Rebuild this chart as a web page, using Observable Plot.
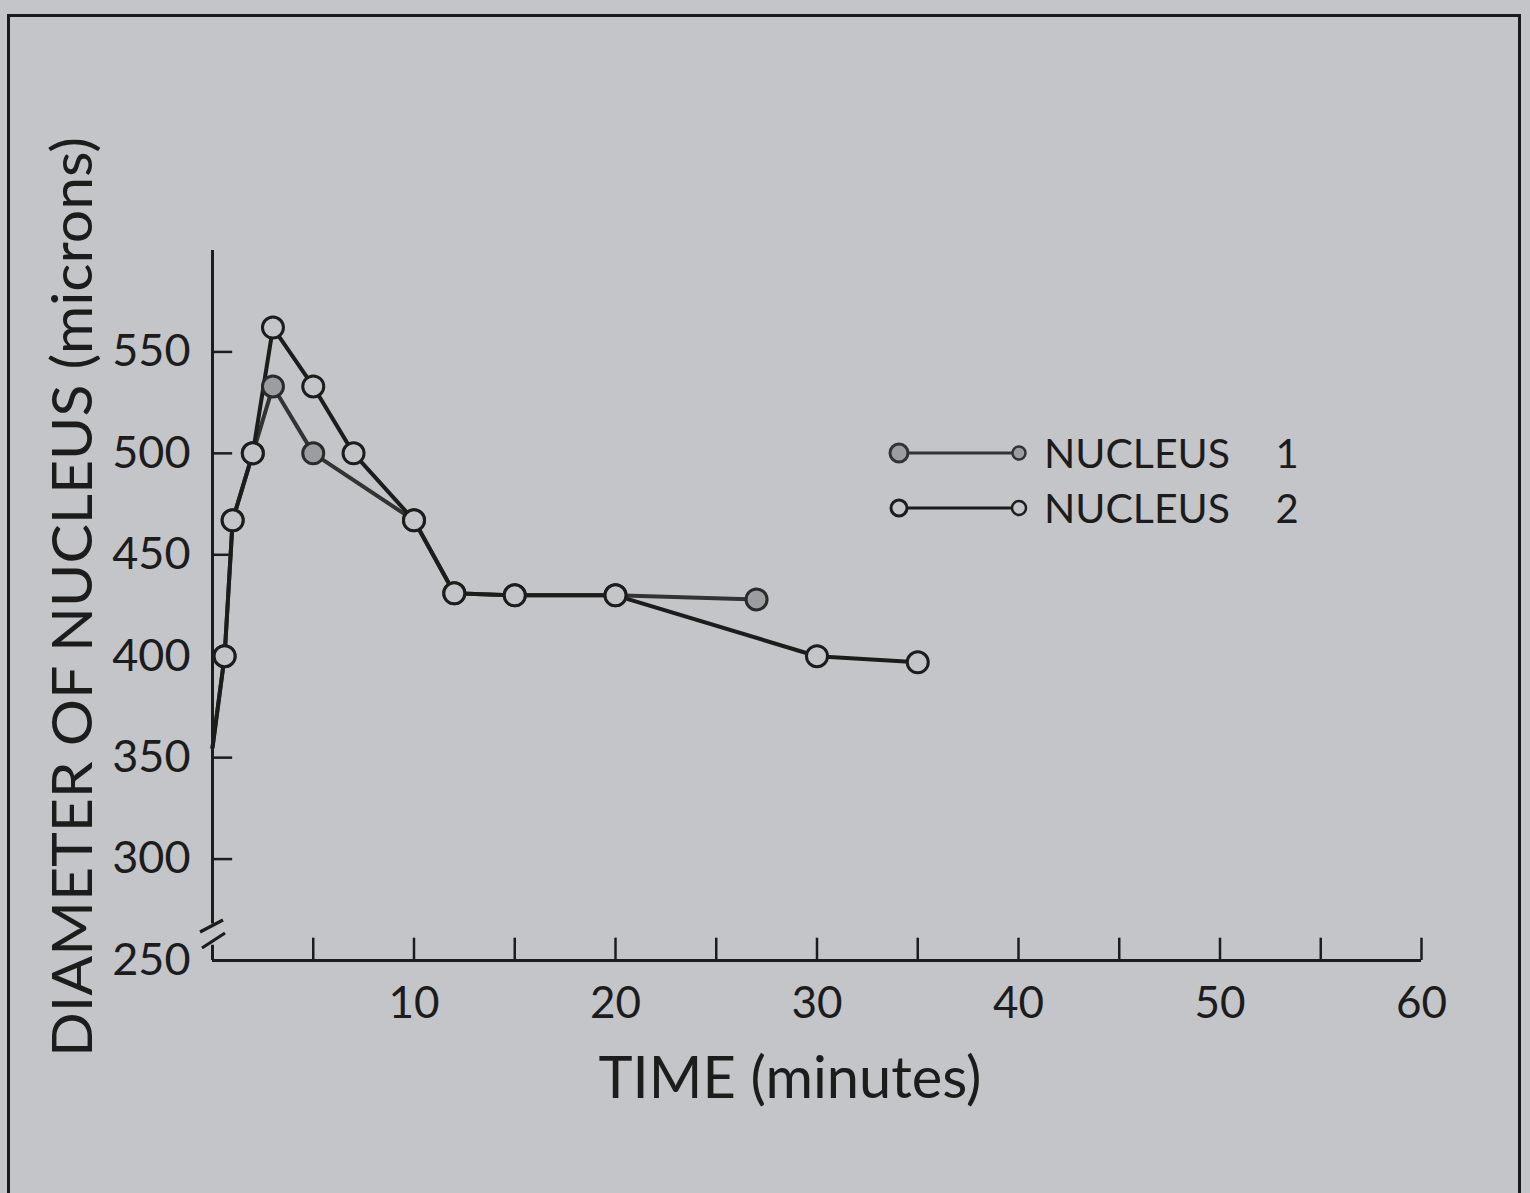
<!DOCTYPE html>
<html><head><meta charset="utf-8">
<script src="https://cdn.jsdelivr.net/npm/d3@7"></script>
<script src="https://cdn.jsdelivr.net/npm/@observablehq/plot@0.6"></script>
<style>
html,body{margin:0;padding:0;background:#c4c5c9;}
#wrap{position:relative;width:1530px;height:1193px;overflow:hidden;background:#c4c5c9;color:#1c1c1c;font-family:Lato,"Open Sans",sans-serif;}
#frame{position:absolute;left:7px;top:14px;width:1514px;height:1240px;border:3px solid #1a1a1a;box-sizing:border-box;}
#wrap svg{position:absolute;left:0;top:0;}
</style></head><body>
<div id="wrap"><div id="frame"></div></div>
<script>
// ---- data ----
const n1Time = [0, 0.6, 1, 2, 3, 5, 10, 12, 15, 20, 27];
const n1Diam = [355, 400, 467, 500, 533, 500, 467, 431, 430, 430, 428];
const n2Time = [0, 0.6, 1, 2, 3, 5, 7, 10, 12, 15, 20, 30, 35];
const n2Diam = [355, 400, 467, 500, 562, 533, 500, 467, 431, 430, 430, 400, 397];
const xTickValues = [5, 10, 15, 20, 25, 30, 35, 40, 45, 50, 55, 60];
const xTickLabels = [10, 20, 30, 40, 50, 60];
const yTickValues = [300, 350, 400, 450, 500, 550];
const yTickLabels = [250, 300, 350, 400, 450, 500, 550];
const seriesNames = ["NUCLEUS", "NUCLEUS"];
const seriesNumbers = ["1", "2"];
const xTitle = "TIME (minutes)";
const yTitle = "DIAMETER OF NUCLEUS (microns)";

const n1 = n1Time.map((t, i) => ({t, d: n1Diam[i]}));
const n2 = n2Time.map((t, i) => ({t, d: n2Diam[i]}));

const ink = "#1c1c1c";
const bg = "#c4c5c9";
const font = "Lato, 'Open Sans', sans-serif";

const plot = Plot.plot({
  width: 1530, height: 1193,
  marginLeft: 212, marginRight: 109, marginTop: 250, marginBottom: 233,
  style: {background: "transparent", fontFamily: font, color: ink, overflow: "visible"},
  x: {domain: [0, 60]},
  y: {domain: [250, 600]},
  marks: [
    Plot.axisX({ticks: xTickLabels, tickSize: 0, tickPadding: 26, fontSize: 44, label: null}),
    Plot.axisY({ticks: yTickLabels, tickSize: 0, tickPadding: 22, fontSize: 45, label: null}),
    Plot.ruleY([250], {x1: 0, x2: 60, stroke: ink, strokeWidth: 3}),
    Plot.ruleX([0], {y1: 268, y2: 600, stroke: ink, strokeWidth: 3}),
    Plot.ruleX([0], {y1: 250, y2: 257.5, stroke: ink, strokeWidth: 3}),
    Plot.ruleY(yTickValues, {x1: 0, x2: 1, stroke: ink, strokeWidth: 2.5}),
    Plot.ruleX(xTickValues, {y1: 250, y2: 261, stroke: ink, strokeWidth: 2.5}),
    Plot.line(n1, {x: "t", y: "d", stroke: "#333", strokeWidth: 4}),
    Plot.line(n2, {x: "t", y: "d", stroke: ink, strokeWidth: 4}),
    Plot.dot(n1.filter(d => d.t > 0), {x: "t", y: "d", r: 10.5, fill: "#9c9da1", stroke: "#2a2a2a", strokeWidth: 3}),
    Plot.dot(n2.filter(d => d.t > 0), {x: "t", y: "d", r: 10.5, fill: bg, stroke: ink, strokeWidth: 3})
  ]
});
document.getElementById("wrap").appendChild(plot);

// axis break marks, placed via scales
const sx = plot.scale("x"), sy = plot.scale("y");
const svg = d3.select(plot);
const x0 = sx.apply(0);
[[263.8, 269.7, -12, 11], [255.9, 263.3, -10, 13]].forEach(([a, b, l, r]) => {
  svg.append("line")
    .attr("x1", x0 + l).attr("y1", sy.apply(a))
    .attr("x2", x0 + r).attr("y2", sy.apply(b))
    .attr("stroke", ink).attr("stroke-width", 3.2);
});

// overlay: titles and legend
const ov = d3.select("#wrap").append("svg")
  .attr("width", 1530).attr("height", 1193)
  .style("font-family", font).style("pointer-events", "none");

ov.append("text")
  .attr("x", 790).attr("y", 1098)
  .attr("text-anchor", "middle")
  .attr("font-size", 58)
  .attr("fill", ink)
  .attr("textLength", 383).attr("lengthAdjust", "spacingAndGlyphs")
  .text(xTitle);

ov.append("text")
  .attr("transform", "translate(92,597) rotate(-90)")
  .attr("text-anchor", "middle")
  .attr("font-size", 56)
  .attr("fill", ink)
  .attr("textLength", 920).attr("lengthAdjust", "spacingAndGlyphs")
  .text(yTitle);

// legend
const leg = [
  {y: 453, r0: 9, r1: 6.5, fill: "#9c9da1", stroke: "#333"},
  {y: 508, r0: 8, r1: 7, fill: bg, stroke: ink}
];
leg.forEach((L, i) => {
  ov.append("line").attr("x1", 898).attr("x2", 1018).attr("y1", L.y).attr("y2", L.y)
    .attr("stroke", L.stroke).attr("stroke-width", 3);
  ov.append("circle").attr("cx", 899).attr("cy", L.y).attr("r", L.r0)
    .attr("fill", L.fill).attr("stroke", L.stroke).attr("stroke-width", 3);
  ov.append("circle").attr("cx", 1019).attr("cy", L.y).attr("r", L.r1)
    .attr("fill", L.fill).attr("stroke", L.stroke).attr("stroke-width", 2.5);
  ov.append("text").attr("x", 1044).attr("y", L.y + 15)
    .attr("font-size", 40).attr("fill", ink)
    .attr("textLength", 186).attr("lengthAdjust", "spacingAndGlyphs")
    .text(seriesNames[i]);
  ov.append("text").attr("x", 1287).attr("y", L.y + 15)
    .attr("text-anchor", "middle")
    .attr("font-size", 40).attr("fill", ink)
    .text(seriesNumbers[i]);
});
</script>
</body></html>
